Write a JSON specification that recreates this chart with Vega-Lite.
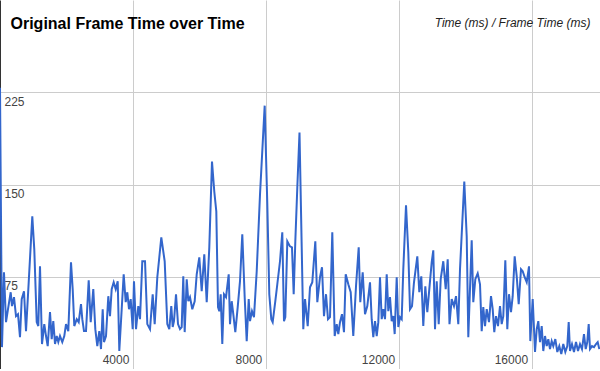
{
  "$schema": "https://vega.github.io/schema/vega-lite/v6.json",
  "autosize": {"type": "none"},
  "padding": 0,
  "width": 600,
  "height": 369,
  "background": "white",
  "config": {"view": {"stroke": null}, "font": "Liberation Sans"},
  "data": {"values": [
    {"t":0,"ft":228.6},{"t":60,"ft":17.8},{"t":120,"ft":78.6},{"t":181,"ft":38.1},{"t":241,"ft":48.6},{"t":322,"ft":62.4},{"t":361,"ft":51.1},{"t":421,"ft":58.4},{"t":482,"ft":43.0},{"t":542,"ft":44.6},{"t":602,"ft":25.9},{"t":653,"ft":56.8},{"t":722,"ft":63.2},{"t":783,"ft":30.8},{"t":864,"ft":70.5},{"t":972,"ft":124.1},{"t":1032,"ft":97.3},{"t":1105,"ft":38.1},{"t":1153,"ft":34.9},{"t":1204,"ft":83.5},{"t":1264,"ft":20.3},{"t":1333,"ft":36.5},{"t":1385,"ft":26.8},{"t":1436,"ft":18.6},{"t":1505,"ft":46.2},{"t":1556,"ft":24.3},{"t":1604,"ft":38.9},{"t":1656,"ft":20.3},{"t":1707,"ft":26.8},{"t":1755,"ft":21.9},{"t":1806,"ft":26.8},{"t":1875,"ft":21.9},{"t":1935,"ft":26.8},{"t":1987,"ft":36.5},{"t":2056,"ft":30.8},{"t":2137,"ft":86.8},{"t":2188,"ft":64.9},{"t":2236,"ft":34.9},{"t":2309,"ft":40.5},{"t":2369,"ft":38.1},{"t":2438,"ft":52.7},{"t":2477,"ft":40.5},{"t":2528,"ft":30.8},{"t":2589,"ft":30.8},{"t":2670,"ft":72.2},{"t":2730,"ft":38.1},{"t":2808,"ft":64.9},{"t":2869,"ft":32.4},{"t":2929,"ft":18.6},{"t":2989,"ft":30.8},{"t":3040,"ft":16.2},{"t":3091,"ft":48.6},{"t":3130,"ft":21.9},{"t":3191,"ft":26.8},{"t":3260,"ft":59.2},{"t":3311,"ft":43.0},{"t":3362,"ft":64.9},{"t":3422,"ft":70.5},{"t":3483,"ft":64.9},{"t":3543,"ft":71.4},{"t":3591,"ft":14.6},{"t":3663,"ft":48.6},{"t":3723,"ft":77.0},{"t":3784,"ft":54.3},{"t":3832,"ft":62.4},{"t":3883,"ft":48.6},{"t":3934,"ft":56.8},{"t":3994,"ft":32.4},{"t":4033,"ft":71.4},{"t":4094,"ft":32.4},{"t":4163,"ft":51.1},{"t":4214,"ft":40.5},{"t":4283,"ft":87.6},{"t":4365,"ft":87.6},{"t":4434,"ft":36.5},{"t":4515,"ft":32.4},
    {"t":4596,"ft":60.8},{"t":4656,"ft":36.5},{"t":4735,"ft":74.6},{"t":4855,"ft":107.0},{"t":4957,"ft":87.6},{"t":5036,"ft":36.5},{"t":5096,"ft":32.4},{"t":5156,"ft":51.1},{"t":5198,"ft":34.1},{"t":5237,"ft":38.9},{"t":5298,"ft":60.8},{"t":5358,"ft":36.5},{"t":5418,"ft":32.4},{"t":5469,"ft":34.1},{"t":5517,"ft":75.4},{"t":5559,"ft":30.0},{"t":5620,"ft":73.0},{"t":5668,"ft":55.1},{"t":5719,"ft":58.4},{"t":5788,"ft":48.6},{"t":5860,"ft":55.1},{"t":5921,"ft":77.0},{"t":5999,"ft":90.8},{"t":6071,"ft":63.2},{"t":6149,"ft":93.2},{"t":6222,"ft":54.3},{"t":6300,"ft":98.9},{"t":6381,"ft":168.6},{"t":6450,"ft":144.3},{"t":6511,"ft":128.1},{"t":6562,"ft":50.3},{"t":6601,"ft":47.0},{"t":6643,"ft":60.8},{"t":6691,"ft":20.3},{"t":6742,"ft":60.8},{"t":6803,"ft":58.4},{"t":6884,"ft":77.0},{"t":6923,"ft":36.5},{"t":6974,"ft":55.1},{"t":7022,"ft":44.6},{"t":7083,"ft":30.0},{"t":7155,"ft":50.3},{"t":7224,"ft":71.4},{"t":7293,"ft":109.5},{"t":7365,"ft":58.4},{"t":7426,"ft":22.7},{"t":7486,"ft":56.8},{"t":7525,"ft":38.9},{"t":7585,"ft":47.0},{"t":7645,"ft":42.2},{"t":7727,"ft":79.5},{"t":7826,"ft":141.9},{"t":7967,"ft":214.1},{"t":8046,"ft":133.8},{"t":8106,"ft":60.8},{"t":8166,"ft":40.5},{"t":8208,"ft":38.1},{"t":8287,"ft":55.1},{"t":8347,"ft":68.9},{"t":8428,"ft":87.6},{"t":8497,"ft":111.1},{"t":8548,"ft":38.9},{"t":8588,"ft":42.2},{"t":8648,"ft":103.8},{"t":8729,"ft":99.7},{"t":8789,"ft":98.9},{"t":8840,"ft":60.8},{"t":8889,"ft":103.8},{"t":8949,"ft":147.6},{"t":9015,"ft":192.2},
    {"t":9081,"ft":99.7},{"t":9129,"ft":32.4},{"t":9181,"ft":56.8},{"t":9211,"ft":48.6},{"t":9262,"ft":34.9},{"t":9331,"ft":66.5},{"t":9400,"ft":70.5},{"t":9491,"ft":103.8},{"t":9551,"ft":54.3},{"t":9632,"ft":74.6},{"t":9692,"ft":82.7},{"t":9752,"ft":43.0},{"t":9813,"ft":60.8},{"t":9873,"ft":40.5},{"t":9933,"ft":42.2},{"t":10002,"ft":111.1},{"t":10074,"ft":26.8},{"t":10135,"ft":36.5},{"t":10183,"ft":28.4},{"t":10234,"ft":38.1},{"t":10294,"ft":44.6},{"t":10354,"ft":30.0},{"t":10406,"ft":77.0},{"t":10484,"ft":68.9},{"t":10556,"ft":62.4},{"t":10634,"ft":26.8},{"t":10716,"ft":67.3},{"t":10797,"ft":98.9},{"t":10845,"ft":54.3},{"t":10917,"ft":78.6},{"t":10987,"ft":44.6},{"t":11056,"ft":51.1},{"t":11137,"ft":70.5},{"t":11188,"ft":40.5},{"t":11236,"ft":25.9},{"t":11288,"ft":38.9},{"t":11339,"ft":26.8},{"t":11387,"ft":38.1},{"t":11438,"ft":74.6},{"t":11489,"ft":40.5},{"t":11537,"ft":48.6},{"t":11589,"ft":40.5},{"t":11640,"ft":77.0},{"t":11688,"ft":47.0},{"t":11739,"ft":58.4},{"t":11790,"ft":38.9},{"t":11838,"ft":43.0},{"t":11880,"ft":28.4},{"t":11941,"ft":74.6},{"t":11989,"ft":34.1},{"t":12040,"ft":42.2},{"t":12091,"ft":40.5},{"t":12139,"ft":81.1},{"t":12221,"ft":133.0},{"t":12290,"ft":94.9},{"t":12341,"ft":48.6},{"t":12401,"ft":51.1},{"t":12461,"ft":70.5},{"t":12561,"ft":91.6},{"t":12621,"ft":62.4},{"t":12681,"ft":75.4},{"t":12741,"ft":34.9},{"t":12802,"ft":67.3},{"t":12862,"ft":46.2},{"t":12922,"ft":64.9},{"t":12994,"ft":86.8},{"t":13042,"ft":96.5},{"t":13094,"ft":32.4},{"t":13145,"ft":71.4},{"t":13205,"ft":36.5},{"t":13265,"ft":73.0},{"t":13343,"ft":87.6},{"t":13416,"ft":64.9},{"t":13476,"ft":89.2},{"t":13530,"ft":36.5},
    {"t":13596,"ft":56.8},{"t":13665,"ft":51.1},{"t":13726,"ft":59.2},{"t":13795,"ft":36.5},{"t":13846,"ft":81.1},{"t":13975,"ft":152.4},{"t":14048,"ft":107.8},{"t":14096,"ft":25.9},{"t":14198,"ft":104.6},{"t":14246,"ft":54.3},{"t":14307,"ft":73.0},{"t":14379,"ft":77.8},{"t":14448,"ft":68.9},{"t":14499,"ft":30.8},{"t":14547,"ft":50.3},{"t":14599,"ft":34.9},{"t":14650,"ft":48.6},{"t":14719,"ft":38.1},{"t":14779,"ft":59.2},{"t":14830,"ft":48.6},{"t":14878,"ft":30.0},{"t":14930,"ft":43.0},{"t":14990,"ft":34.9},{"t":15050,"ft":51.1},{"t":15101,"ft":36.5},{"t":15149,"ft":43.0},{"t":15210,"ft":88.4},{"t":15270,"ft":32.4},{"t":15321,"ft":60.8},{"t":15381,"ft":46.2},{"t":15432,"ft":59.2},{"t":15492,"ft":91.6},{"t":15553,"ft":75.4},{"t":15613,"ft":52.7},{"t":15682,"ft":81.1},{"t":15733,"ft":79.5},{"t":15793,"ft":74.6},{"t":15854,"ft":70.5},{"t":15923,"ft":83.5},{"t":15962,"ft":22.7},{"t":16034,"ft":56.8},{"t":16104,"ft":13.8},{"t":16155,"ft":32.4},{"t":16203,"ft":38.9},{"t":16254,"ft":21.9},{"t":16305,"ft":34.9},{"t":16353,"ft":14.6},{"t":16405,"ft":26.8},{"t":16456,"ft":18.6},{"t":16504,"ft":24.3},{"t":16555,"ft":16.2},{"t":16606,"ft":22.7},{"t":16654,"ft":18.6},{"t":16715,"ft":24.3},{"t":16775,"ft":13.8},{"t":16835,"ft":18.6},{"t":16895,"ft":12.2},{"t":16955,"ft":20.3},{"t":17016,"ft":13.8},{"t":17076,"ft":18.6},{"t":17118,"ft":38.1},{"t":17157,"ft":14.6},{"t":17217,"ft":20.3},{"t":17277,"ft":13.8},{"t":17338,"ft":21.9},{"t":17398,"ft":14.6},{"t":17458,"ft":20.3},{"t":17518,"ft":16.2},{"t":17578,"ft":28.4},{"t":17630,"ft":16.2},{"t":17677,"ft":21.9},{"t":17720,"ft":36.5},{"t":17759,"ft":16.2},{"t":17819,"ft":18.6},{"t":17879,"ft":17.8},{"t":17940,"ft":20.3},{"t":17991,"ft":21.9},{"t":18039,"ft":16.2}
  ]},
  "mark": {"type": "line", "color": "#3366cc", "strokeWidth": 2, "clip": true},
  "encoding": {
    "x": {
      "field": "t", "type": "quantitative",
      "scale": {"domain": [0, 18060], "nice": false, "zero": false},
      "axis": {
        "values": [4000, 8000, 12000, 16000],
        "format": "d",
        "grid": true, "gridColor": "#cccccc", "gridWidth": 1,
        "ticks": false, "tickSize": 0,
        "domain": true, "domainColor": "#333333", "domainWidth": 1,
        "labelAlign": "right", "labelBaseline": "alphabetic",
        "labelPadding": -6, "labelOffset": -4,
        "labelFont": "Liberation Sans", "labelFontSize": 12, "labelColor": "#444444",
        "labelFlush": false, "labelOverlap": false,
        "title": "Time (ms) / Frame Time (ms)",
        "titleX": 590, "titleY": -343,
        "titleAlign": "right", "titleAnchor": null, "titleBaseline": "alphabetic",
        "titleFont": "Liberation Sans", "titleFontSize": 12, "titleFontStyle": "italic",
        "titleFontWeight": "normal", "titleColor": "#222222"
      }
    },
    "y": {
      "field": "ft", "type": "quantitative",
      "scale": {"domain": [0, 300], "nice": false},
      "axis": {
        "values": [75, 150, 225],
        "format": "d",
        "grid": true, "gridColor": "#cccccc", "gridWidth": 1,
        "ticks": false, "tickSize": 0,
        "domain": true, "domainColor": "#333333", "domainWidth": 1,
        "labelAlign": "left", "labelBaseline": "top",
        "labelPadding": -4, "labelOffset": 4,
        "labelFont": "Liberation Sans", "labelFontSize": 12, "labelColor": "#444444",
        "labelFlush": false, "labelOverlap": false,
        "title": "Original Frame Time over Time",
        "titleX": 10, "titleY": 28, "titleAngle": 0,
        "titleAlign": "left", "titleAnchor": null, "titleBaseline": "alphabetic",
        "titleFont": "Liberation Sans", "titleFontSize": 16, "titleFontWeight": "bold",
        "titleColor": "#000000"
      }
    }
  }
}
